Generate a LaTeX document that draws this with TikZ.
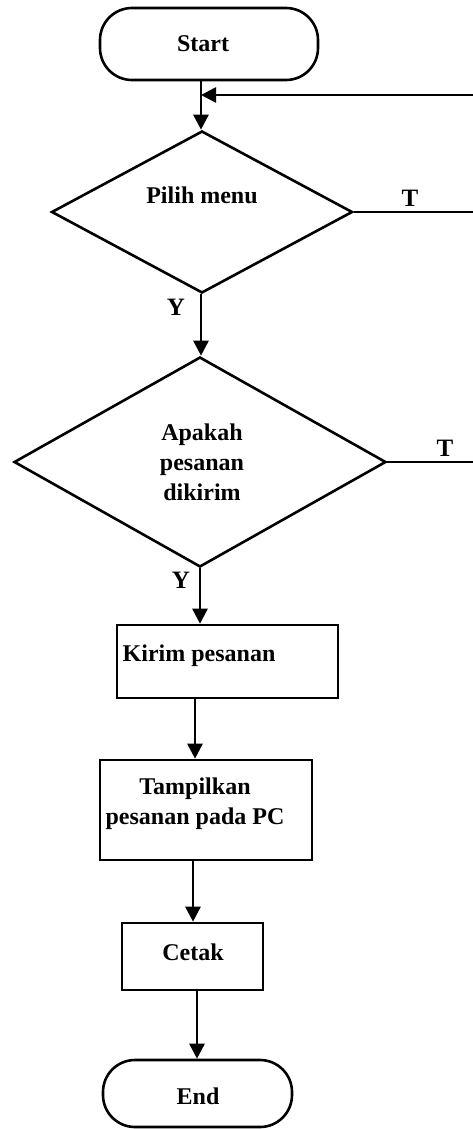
\documentclass[tikz,border=0pt]{standalone}
\usepackage{fontspec}
\setmainfont{Liberation Serif}
\usetikzlibrary{shapes.geometric,arrows.meta}
\tikzset{
  line/.style={line width=2.6pt},
  arr/.style={line width=2.6pt,-{Triangle[width=15pt,length=15pt]}},
  term/.style={draw,line width=2.6pt,rectangle,rounded corners=32pt,inner sep=0pt},
  proc/.style={draw,line width=2.6pt,rectangle,inner sep=0pt},
  dec/.style={draw,line width=2.6pt,diamond,inner sep=0pt},
  txt/.style={font=\bfseries\fontsize{24}{30}\selectfont,align=center,inner sep=0pt},
  lbl/.style={font=\bfseries\fontsize{25}{30}\selectfont,inner sep=0pt}
}
\begin{document}
\begin{tikzpicture}[x=1pt,y=-1pt]
\useasboundingbox (0,0) rectangle (473,1129);
% shapes
\node[term,minimum width=218pt,minimum height=72pt] (start) at (209,44) {};
\node[txt] (tstart) at (203,44) {Start};
\node[dec,minimum width=301pt,minimum height=162pt] (d1) at (202,212) {};
\node[txt] (td1) at (202,195) {Pilih menu};
\node[dec,minimum width=372pt,minimum height=210pt] (d2) at (200,462) {};
\node[txt] (td2) at (202,462) {Apakah\\pesanan\\dikirim};
\node[proc,minimum width=221pt,minimum height=73pt] (kirim) at (227.5,661.5) {};
\node[txt] (tkirim) at (199,656) {Kirim pesanan};
\node[proc,minimum width=212pt,minimum height=100pt] (tampil) at (206,810) {};
\node[txt] (ttampil) at (195,804) {Tampilkan\\pesanan pada PC};
\node[proc,minimum width=141pt,minimum height=67pt] (cetak) at (192.5,956.5) {};
\node[txt] (tcetak) at (193,952) {Cetak};
\node[term,minimum width=189pt,minimum height=67pt] (end) at (197.5,1093.5) {};
\node[txt] (tend) at (198,1096) {End};
% loop-back ends
\coordinate (r0) at (473,95);
\coordinate (r1) at (473,212);
\coordinate (r2) at (473,462);
\coordinate (m) at (201,95);
% connectors
\draw[arr] (201,0 |- start.south) -- (201,0 |- d1.north);
\draw[arr] (r0) -- (m);
\draw[line] (d1.east) -- (r1);
\node[lbl] (t1) at (410,198) {T};
\draw[arr] (201,0 |- d1.south) -- (201,0 |- d2.north);
\node[lbl] (y1) at (176,307) {Y};
\draw[line] (d2.east) -- (r2);
\node[lbl] (t2) at (445,448) {T};
\draw[arr] (d2.south) -- (200,0 |- kirim.north);
\node[lbl] (y2) at (181,580) {Y};
\draw[arr] (195,0 |- kirim.south) -- (195,0 |- tampil.north);
\draw[arr] (193,0 |- tampil.south) -- (193,0 |- cetak.north);
\draw[arr] (197,0 |- cetak.south) -- (197,0 |- end.north);
\end{tikzpicture}
\end{document}
